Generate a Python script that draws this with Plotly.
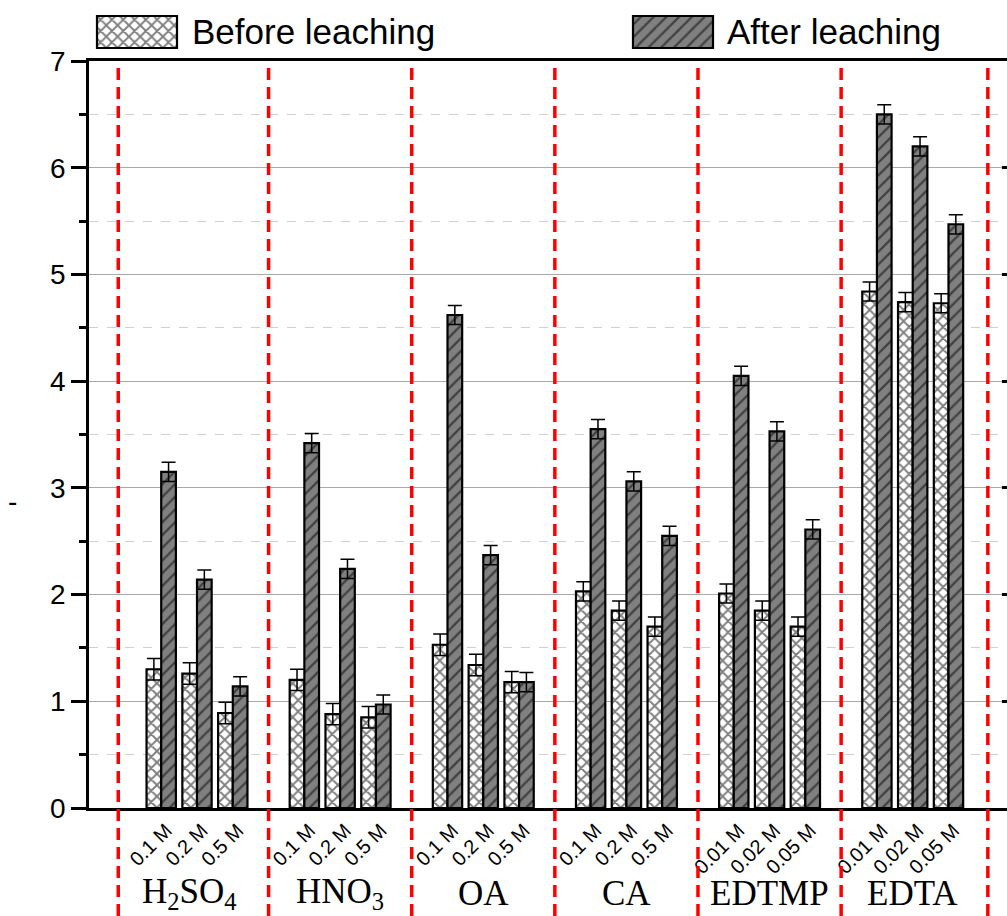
import plotly.graph_objects as go

# ---------------- data ----------------
groups = ["H<sub>2</sub>SO<sub>4</sub>", "HNO<sub>3</sub>", "OA", "CA", "EDTMP", "EDTA"]
concentrations = [
    ["0.1 M", "0.2 M", "0.5 M"],
    ["0.1 M", "0.2 M", "0.5 M"],
    ["0.1 M", "0.2 M", "0.5 M"],
    ["0.1 M", "0.2 M", "0.5 M"],
    ["0.01 M", "0.02 M", "0.05 M"],
    ["0.01 M", "0.02 M", "0.05 M"],
]
before = [1.30, 1.26, 0.89, 1.20, 0.88, 0.85, 1.53, 1.34, 1.18,
          2.03, 1.85, 1.70, 2.01, 1.85, 1.70, 4.84, 4.74, 4.73]
after = [3.15, 2.14, 1.14, 3.42, 2.24, 0.97, 4.62, 2.37, 1.18,
         3.55, 3.06, 2.55, 4.05, 3.53, 2.61, 6.50, 6.20, 5.47]
err_before = [0.10, 0.10, 0.10, 0.10, 0.10, 0.10, 0.10, 0.10, 0.10,
              0.09, 0.09, 0.09, 0.09, 0.09, 0.09, 0.09, 0.09, 0.09]
err_after = [0.09, 0.09, 0.09, 0.09, 0.09, 0.09, 0.09, 0.09, 0.09,
             0.09, 0.09, 0.09, 0.09, 0.09, 0.09, 0.09, 0.09, 0.09]
series_names = ["Before leaching", "After leaching"]

# ---------------- layout helpers ----------------
W, H = 1007, 916
SANS = "Liberation Sans, Arial, sans-serif"
SERIF = "Liberation Serif, Times New Roman, serif"

# slot positions: 3 concentrations per group, one empty slot between groups
xpos, xlabels = [], []
for g, concs in enumerate(concentrations):
    for j, c in enumerate(concs):
        xpos.append(4 * g + j)
        xlabels.append(c)

before_style = dict(color="white", line=dict(color="black", width=2.2),
                    pattern=dict(shape="x", fgcolor="black", bgcolor="white", size=8, solidity=0.42))
after_style = dict(color="#808080", line=dict(color="black", width=2.2),
                   pattern=dict(shape="/", fgcolor="black", bgcolor="#808080", size=9, solidity=0.25))

fig = go.Figure()
fig.add_trace(go.Bar(
    x=xpos, y=before, name=series_names[0], marker=before_style,
    error_y=dict(type="data", array=err_before, visible=True, color="black", thickness=1.5, width=7),
    showlegend=False,
))
fig.add_trace(go.Bar(
    x=xpos, y=after, name=series_names[1], marker=after_style,
    error_y=dict(type="data", array=err_after, visible=True, color="black", thickness=1.5, width=7),
    showlegend=False,
))

# legend swatches drawn as bars in small inset axes
fig.add_trace(go.Bar(x=[1], y=[0], orientation="h", width=1, marker=before_style,
                     xaxis="x3", yaxis="y3", showlegend=False, hoverinfo="skip"))
fig.add_trace(go.Bar(x=[1], y=[0], orientation="h", width=1, marker=after_style,
                     xaxis="x4", yaxis="y4", showlegend=False, hoverinfo="skip"))

x_left, x_right = 89, 1007
y_top, y_bot = 61, 808
xr = [-2.018, 23.635]

inset_axis = dict(visible=False, fixedrange=True, automargin=False)
fig.update_layout(
    width=W, height=H,
    margin=dict(l=0, r=0, t=0, b=0, autoexpand=False),
    paper_bgcolor="white", plot_bgcolor="white",
    barmode="group", bargap=0.18, bargroupgap=0,
    font=dict(family=SANS, color="black"),
    xaxis=dict(
        domain=[x_left / W, x_right / W], range=xr, automargin=False,
        tickmode="array", tickvals=xpos, ticktext=xlabels, tickangle=-45,
        tickfont=dict(size=20, family=SANS), ticks="", ticklabelshift=5,
        showline=True, linecolor="black", linewidth=2.8, mirror=True,
        showgrid=False, zeroline=False,
    ),
    yaxis=dict(
        domain=[1 - y_bot / H, 1 - y_top / H], range=[0, 7], automargin=False,
        tickmode="linear", tick0=0, dtick=1,
        ticks="outside", ticklen=15, tickwidth=2.5, tickcolor="black",
        tickfont=dict(size=28, family=SANS),
        showline=True, linecolor="black", linewidth=2.5, mirror=False,
        showgrid=True, gridcolor="#a9a9a9", gridwidth=1.2, zeroline=False,
        minor=dict(dtick=0.5, ticks="outside", ticklen=7, tickwidth=2.5, tickcolor="black",
                   showgrid=True, gridcolor="#d0d0d0", griddash="dash", gridwidth=1),
    ),
    yaxis2=dict(
        overlaying="y", side="right", anchor="x", range=[0, 7], tickmode="linear", tick0=0, dtick=1,
        ticks="inside", ticklen=5, tickwidth=2.5, tickcolor="black", automargin=False,
        showticklabels=False, showgrid=False, showline=False, zeroline=False,
    ),
    xaxis3=dict(domain=[95 / W, 179 / W], range=[-0.025, 1.025], anchor="y3", **inset_axis),
    yaxis3=dict(domain=[1 - 50 / H, 1 - 14 / H], range=[-0.5625, 0.5625], anchor="x3", **inset_axis),
    xaxis4=dict(domain=[631 / W, 715 / W], range=[-0.025, 1.025], anchor="y4", **inset_axis),
    yaxis4=dict(domain=[1 - 50 / H, 1 - 14 / H], range=[-0.5625, 0.5625], anchor="x4", **inset_axis),
)
# invisible trace so the right-hand tick axis is drawn
fig.add_trace(go.Scatter(x=[None], y=[None], yaxis="y2", showlegend=False, hoverinfo="skip"))

# red dashed separators between groups
separators = [-1.2, 3, 7, 11, 15, 19, 23.1]
for s in separators:
    fig.add_shape(type="line", xref="x", yref="paper", x0=s, x1=s, y0=0, y1=1 - 62 / H,
                  line=dict(color="red", width=3.5, dash="12px,7px"), layer="above")

# group labels
for g, name in enumerate(groups):
    fig.add_annotation(x=4 * g + 1, y=1 - 893 / H, xref="x", yref="paper", text=name,
                       showarrow=False, xanchor="center", yanchor="middle",
                       font=dict(family=SERIF, size=35, color="black"),
                       xshift=-8 if g == 0 else 0)

# legend texts
fig.add_annotation(x=190 / W, y=1 - 32 / H, xref="paper", yref="paper", text=series_names[0],
                   showarrow=False, xanchor="left", yanchor="middle",
                   font=dict(family=SANS, size=35, color="black"))
fig.add_annotation(x=725 / W, y=1 - 32 / H, xref="paper", yref="paper", text=series_names[1],
                   showarrow=False, xanchor="left", yanchor="middle",
                   font=dict(family=SANS, size=35, color="black"))

# y-axis title (a dash)
fig.add_annotation(x=12 / W, y=1 - 501 / H, xref="paper", yref="paper", text="-",
                   showarrow=False, xanchor="center", yanchor="middle",
                   font=dict(family=SANS, size=28, color="black"))

fig.write_html("out.html")
